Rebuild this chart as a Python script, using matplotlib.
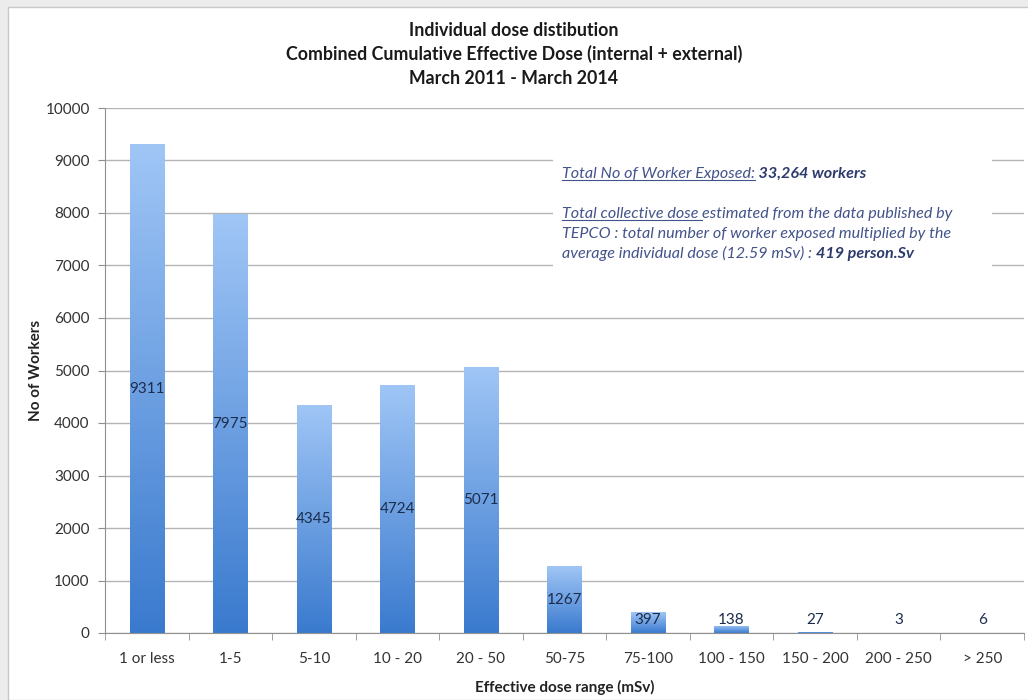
import matplotlib
matplotlib.use('Agg')
import matplotlib.pyplot as plt
import numpy as np
from matplotlib.colors import LinearSegmentedColormap
from matplotlib.patches import Rectangle
from matplotlib.lines import Line2D

# data
categories = ['1 or less', '1-5', '5-10', '10 - 20', '20 - 50', '50-75',
              '75-100', '100 - 150', '150 - 200', '200 - 250', '> 250']
workers = [9311, 7975, 4345, 4724, 5071, 1267, 397, 138, 27, 3, 6]
yticks = list(range(0, 10001, 1000))

title_lines = ['Individual dose distibution',
               'Combined Cumulative Effective Dose (internal + external)',
               'March 2011 - March 2014']

plt.rcParams['font.family'] = ['Lato', 'DejaVu Sans']

W, H = 1028, 700
fig = plt.figure(figsize=(W / 100, H / 100), dpi=100)
fig.patch.set_facecolor('#ececec')
# white chart area with light border
fig.patches.append(Rectangle((8 / W, 0), 1.0, 1 - 7 / H, transform=fig.transFigure,
                             facecolor='white', edgecolor='#c8c8c8', lw=1.0, zorder=-5))


def px(x, y):
    return x / W, 1 - y / H


ax = fig.add_axes([105 / W, (H - 633) / H, (1024 - 105) / W, (633 - 108) / H])
ax.set_facecolor('none')

# bars with vertical gradient
cmap = LinearSegmentedColormap.from_list('bar', ['#3a7ace', '#a0c6f6'])
grad = np.linspace(0, 1, 256).reshape(-1, 1)
bw = 0.41
xs = np.arange(len(categories))
bars = ax.bar(xs, workers, width=bw, color='none', zorder=2)
for b in bars:
    x0 = b.get_x()
    h = b.get_height()
    im = ax.imshow(grad, cmap=cmap, origin='lower', aspect='auto',
                   extent=(x0, x0 + bw, 0, h), zorder=2)
    im.set_clip_path(b)
ax.set_xlim(-0.5, len(categories) - 0.5)
ax.set_ylim(0, 10000)

for x, v in zip(xs, workers):
    ax.text(x, max(v / 2, 250), str(v), ha='center', va='center',
            fontsize=11, color='#1c2c4c', zorder=4)

ax.set_yticks(yticks)
ax.set_xticks(xs)
ax.set_xticklabels(categories)
ax.set_xticks(np.arange(-0.5, len(categories), 1.0), minor=True)
ax.tick_params(axis='x', which='major', length=0, pad=14, labelsize=11, labelcolor='#333333')
ax.tick_params(axis='x', which='minor', length=5, color='#909090', direction='out')
ax.tick_params(axis='y', length=5, color='#909090', labelsize=11, labelcolor='#333333', pad=6)
ax.yaxis.grid(True, color='#b4b4b4', lw=1.0, zorder=1)
ax.set_axisbelow(True)
for s in ['top', 'right']:
    ax.spines[s].set_visible(False)
for s in ['left', 'bottom']:
    ax.spines[s].set_color('#909090')

ax.set_xlabel('Effective dose range (mSv)', fontsize=11, fontweight='bold',
              color='#222222', labelpad=10)
ax.set_ylabel('No of Workers', fontsize=11, fontweight='bold', color='#222222', labelpad=2)

for i, line in enumerate(title_lines):
    fig.text(*px(514, 30 + i * 24), line, ha='center', va='center',
             fontsize=12.8, fontweight='bold', color='#1a1a1a')

# annotation box
fig.patches.append(Rectangle(px(553, 283), (992 - 553) / W, (283 - 146) / H,
                             transform=fig.transFigure, facecolor='white',
                             edgecolor='none', zorder=3))

txt_color = '#44548a'
bold_color = '#2c3a6c'
fs = 11.6
fig.canvas.draw()
renderer = fig.canvas.get_renderer()


def pieces(x, y, parts):
    # parts: list of (text, bold, underline)
    cur = x
    for s, bold, ul in parts:
        t = fig.text(cur / W, 1 - y / H, s, ha='left', va='baseline', fontsize=fs,
                     style='italic', fontweight='bold' if bold else 'normal',
                     color=bold_color if bold else txt_color, zorder=5)
        ext = t.get_window_extent(renderer)
        if ul:
            fig.lines.append(Line2D([ext.x0 / W, ext.x1 / W],
                                    [(H - y - 2) / H, (H - y - 2) / H],
                                    transform=fig.transFigure, color=txt_color,
                                    lw=0.8, zorder=5))
        cur = ext.x1


pieces(562, 178, [('Total No of Worker Exposed:', False, True),
                  (' 33,264 workers', True, False)])
pieces(562, 218, [('Total collective dose ', False, True),
                  ('estimated from the data published by', False, False)])
pieces(562, 238, [('TEPCO : total number of worker exposed multiplied by the', False, False)])
pieces(562, 258, [('average individual dose (12.59 mSv) : ', False, False),
                  ('419 person.Sv', True, False)])

fig.savefig('out.png', dpi=100, facecolor=fig.get_facecolor())
